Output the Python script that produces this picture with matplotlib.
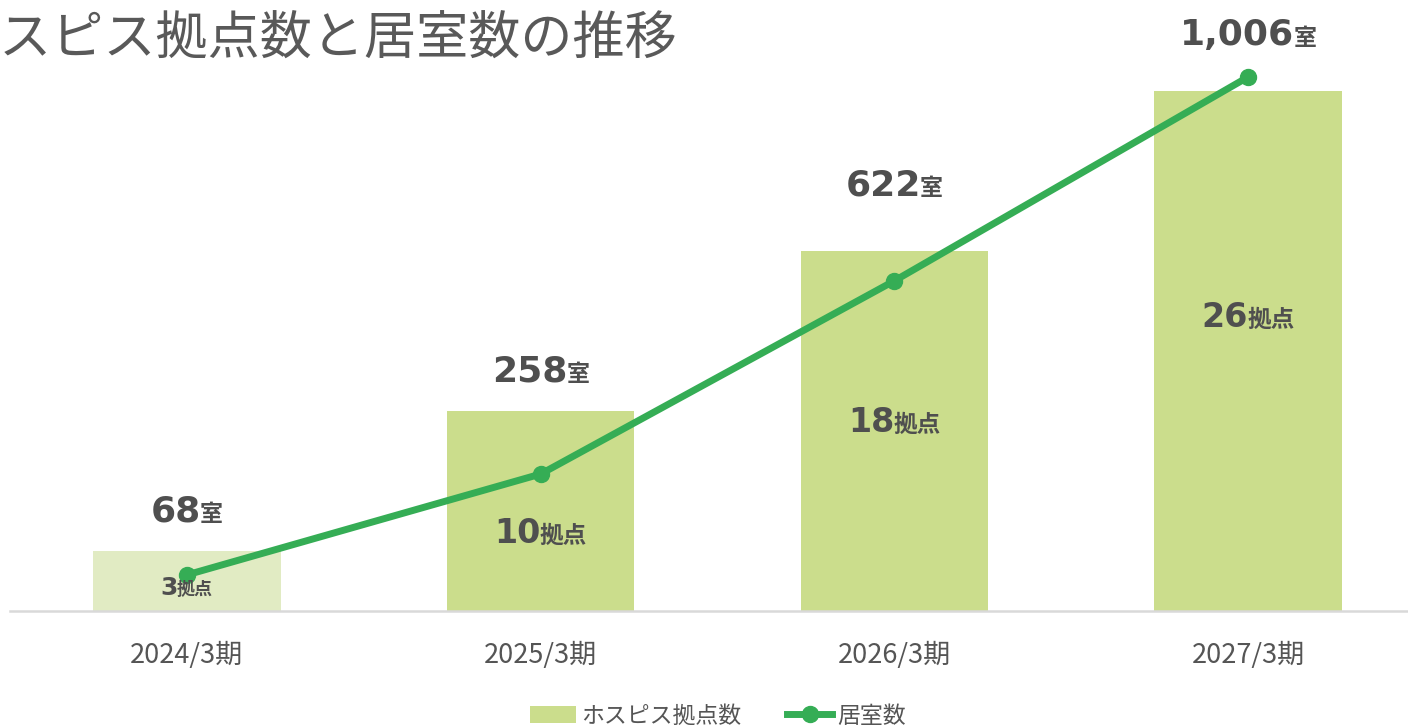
import matplotlib
matplotlib.use("Agg")
import matplotlib.pyplot as plt
from matplotlib.lines import Line2D
from matplotlib.patches import Patch

categories = ["2024/3期", "2025/3期", "2026/3期", "2027/3期"]
sites = [3, 10, 18, 26]          # ホスピス拠点数
rooms = [68, 258, 622, 1006]     # 居室数
room_labels = ["68", "258", "622", "1,006"]
site_labels = ["3", "10", "18", "26"]

title = "ホスピス拠点数と居室数の推移"
legend_bar = "ホスピス拠点数"
legend_line = "居室数"

BAR = "#cbdd8c"
BAR_LIGHT = "#e1ebc3"
LINE = "#35ad55"
TXT = "#4f4f4f"
CJK = "Noto Sans CJK JP"

DPI = 100
W, H = 1408, 727
fig = plt.figure(figsize=(W / DPI, H / DPI), dpi=DPI)
fig.patch.set_facecolor("white")

ax = fig.add_axes([10 / W, 116 / H, 1415 / W, 611 / H])
x = list(range(len(categories)))
colors = [BAR_LIGHT] + [BAR] * (len(categories) - 1)
ax.bar(x, sites, width=0.53, color=colors, zorder=1)
ax.set_xlim(-0.5, len(categories) - 0.5)
ax.set_ylim(0, 30.55)
for s in ["top", "left", "right"]:
    ax.spines[s].set_visible(False)
ax.spines["bottom"].set_color("#d9d9d9")
ax.spines["bottom"].set_linewidth(1.8)
ax.set_yticks([])
ax.set_xticks(x)
ax.set_xticklabels(categories, fontsize=19.5, color="#555555",
                   family=[CJK, "DejaVu Sans"])
ax.tick_params(axis="x", length=0, pad=22)
ax.set_facecolor("none")

ax2 = ax.twinx()
ax2.plot(x, rooms, color=LINE, lw=5, marker="o", ms=11.5, zorder=3,
         solid_capstyle="round")
ax2.set_ylim(0, 1151)
ax2.set_yticks([])
for s in ["top", "left", "right", "bottom"]:
    ax2.spines[s].set_visible(False)

renderer = fig.canvas.get_renderer()


def combo(xv, yv, num, suf, fs1, fs2, dy_px):
    dy = dy_px * 72 / DPI
    t1 = ax2.annotate(num, (xv, yv), xycoords=ax.transData, xytext=(0, dy),
                      textcoords="offset points", ha="left", va="baseline",
                      fontsize=fs1, fontweight="bold", color=TXT,
                      family="DejaVu Sans", zorder=5)
    t2 = ax2.annotate(suf, (xv, yv), xycoords=ax.transData, xytext=(0, dy),
                      textcoords="offset points", ha="left", va="baseline",
                      fontsize=fs2, fontweight="bold", color=TXT,
                      family=[CJK, "DejaVu Sans"], zorder=5)
    w1 = t1.get_window_extent(renderer).width
    w2 = t2.get_window_extent(renderer).width
    gap = -1
    total = w1 + gap + w2
    start = -total / 2
    t1.set_position((start * 72 / DPI, dy))
    t2.set_position(((start + w1 + gap) * 72 / DPI, dy))


# room labels above bars (offset in px above bar top)
room_offsets = [30, 30, 56, 46]
for i in x:
    combo(i, sites[i], room_labels[i], "室", 26, 16.5, room_offsets[i])

# site labels inside bars (offset in px above baseline)
site_offsets = [16, 68, 179, 284]
site_fs = [18, 24, 24, 24]
site_fs2 = [13, 17, 17, 17]
for i in x:
    combo(i, 0, site_labels[i], "拠点", site_fs[i], site_fs2[i], site_offsets[i])

fig.text(-52 / W, 1 - 40 / H, title, fontsize=37.5, color="#595959",
         family=[CJK, "DejaVu Sans"], ha="left", va="center")

handles = [Patch(facecolor=BAR, edgecolor="none"),
           Line2D([0], [0], color=LINE, lw=5, marker="o", ms=11.5)]
leg = fig.legend(handles, [legend_bar, legend_line], loc="center",
                 bbox_to_anchor=(718 / W, 1 - 716 / H), ncol=2, frameon=False,
                 prop={"family": [CJK, "DejaVu Sans"], "size": 16.5},
                 handlelength=2.0, handletextpad=0.2, columnspacing=2.0,
                 handleheight=0.7)
for t in leg.get_texts():
    t.set_color("#555555")

fig.savefig("out.png", dpi=DPI, facecolor="white")
